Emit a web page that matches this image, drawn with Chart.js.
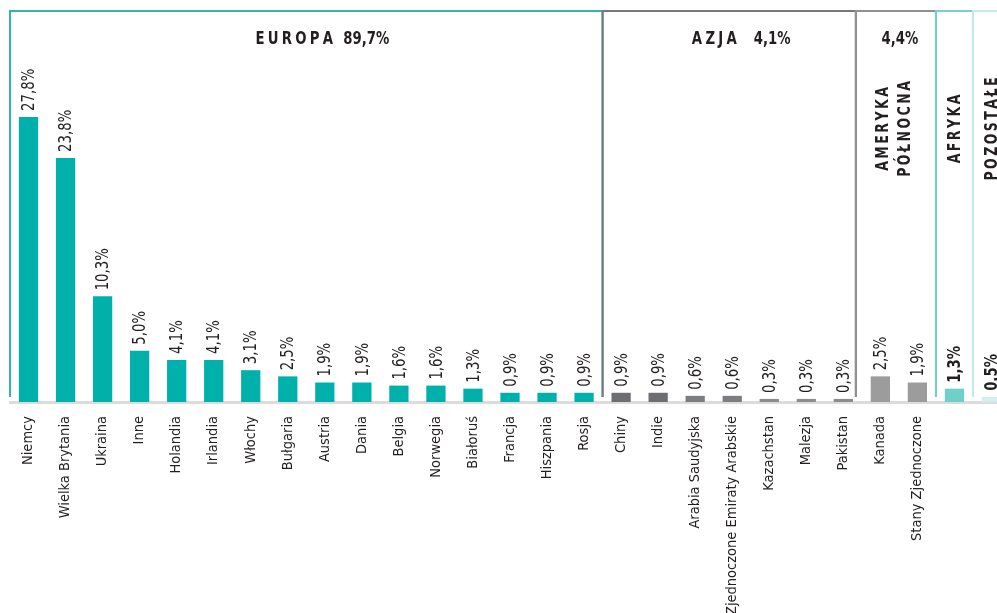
<!DOCTYPE html>
<html lang="pl">
<head>
<meta charset="utf-8">
<title>Struktura według krajów</title>
<script src="https://cdn.jsdelivr.net/npm/chart.js@4.4.1/dist/chart.umd.min.js"></script>
<style>
    html, body { margin: 0; padding: 0; background: #fff; overflow: hidden; }
</style>
</head>
<body>
<canvas id="wykres" width="997" height="613"></canvas>
<script>
// ==================== DANE ====================
const kraje = [
    "Niemcy", "Wielka Brytania", "Ukraina", "Inne", "Holandia", "Irlandia", "Włochy", "Bułgaria",
    "Austria", "Dania", "Belgia", "Norwegia", "Białoruś", "Francja", "Hiszpania", "Rosja",
    "Chiny", "Indie", "Arabia Saudyjska", "Zjednoczone Emiraty Arabskie", "Kazachstan", "Malezja", "Pakistan",
    "Kanada", "Stany Zjednoczone",
    "",
    ""
];
const udzial = [
    27.8, 23.8, 10.3, 5.0, 4.1, 4.1, 3.1, 2.5,
    1.9, 1.9, 1.6, 1.6, 1.3, 0.9, 0.9, 0.9,
    0.9, 0.9, 0.6, 0.6, 0.3, 0.3, 0.3,
    2.5, 1.9,
    1.3,
    0.5
];
const regiony = ["EUROPA", "AZJA", "AMERYKA PÓŁNOCNA", "AFRYKA", "POZOSTAŁE"];
const udzialRegionow = ["89,7%", "4,1%", "4,4%", "1,3%", "0,5%"];
const liczbaKrajow = [16, 7, 2, 1, 1];

// ==================== WYGLĄD ====================
const FONT = '"Liberation Sans Narrow", "DejaVu Sans Condensed", sans-serif';
const SCIESNIENIE = 0.82; // zwężenie napisów rysowanych ręcznie
const kolorTekstu = "#231f20";
const kolorySlupkow = [
    ...Array(16).fill("#00b0aa"),
    "#6d6e71", "#6d6e71", "#7c7d80", "#7c7d80", "#8b8c8e", "#8b8c8e", "#8b8c8e",
    "#9c9c9c", "#9c9c9c",
    "#6fd0ca",
    "#d2efed"
];
const kolorRamek = ["#35b4ae", "#77787b", "#8f9194", "#74d1cc", "#c3ebe8"];
const pogrubioneEtykiety = [25, 26];

function formatProcent(v) {
    return v.toFixed(1).replace(".", ",") + "%";
}

// szerokość tekstu (po zwężeniu) z odstępami między literami
function szerokosc(ctx, tekst, odstep = 0) {
    let w = 0;
    for (const ch of tekst) w += ctx.measureText(ch).width + odstep;
    return (w - odstep) * SCIESNIENIE;
}

// rysuje zwężony tekst od punktu (x, y) w bieżącym układzie, zwraca x końca
function rysujTekst(ctx, tekst, x, y, odstep = 0) {
    ctx.save();
    ctx.translate(x, y);
    ctx.scale(SCIESNIENIE, 1);
    ctx.textAlign = "left";
    let px = 0;
    for (const ch of tekst) {
        ctx.fillText(ch, px, 0);
        px += ctx.measureText(ch).width + odstep;
    }
    ctx.restore();
    return x + szerokosc(ctx, tekst, odstep);
}

// napis pionowy (od dołu do góry), wyśrodkowany w punkcie cx, cy
function rysujPionowo(ctx, tekst, cx, cy, odstep) {
    ctx.save();
    ctx.translate(cx, cy);
    ctx.rotate(-Math.PI / 2);
    ctx.textBaseline = "middle";
    rysujTekst(ctx, tekst, -szerokosc(ctx, tekst, odstep) / 2, 0, odstep);
    ctx.restore();
}

// ==================== POSZERZENIE OSI X ====================
// ostatnia kategoria ("pozostałe") ma wychodzić poza prawą krawędź płótna
const poszerzenieOsi = {
    id: "poszerzenieOsi",
    afterLayout(chart) {
        const x = chart.scales.x;
        const dodatek = 13;
        x.right += dodatek;
        x.width += dodatek;
        chart.chartArea.right += dodatek;
        chart.chartArea.width += dodatek;
        x.configure();
    }
};

// ==================== RAMKI REGIONÓW ====================
const ramkiRegionow = {
    id: "ramkiRegionow",
    beforeDatasetsDraw(chart) {
        const { ctx, chartArea, scales: { x } } = chart;
        const krok = x.getPixelForValue(1) - x.getPixelForValue(0);
        const gora = chartArea.top + 11;
        const dol = chartArea.bottom - 5;
        const korekta = [0, -6, 0, 0, 0]; // przesunięcie prawej krawędzi ramki
        let start = 0;
        const granice = [];
        liczbaKrajow.forEach((n, i) => {
            const lewa = x.getPixelForValue(start) - krok / 2 + (i > 0 ? korekta[i - 1] : 0);
            const prawa = x.getPixelForValue(start + n - 1) + krok / 2 + korekta[i];
            granice.push([lewa, prawa]);
            start += n;
        });

        ctx.save();
        ctx.lineWidth = 2;
        granice.forEach(([lewa, prawa], i) => {
            ctx.strokeStyle = kolorRamek[i];
            ctx.beginPath();
            ctx.moveTo(lewa, dol);
            ctx.lineTo(lewa, gora);
            ctx.lineTo(prawa, gora);
            ctx.lineTo(prawa, dol);
            ctx.stroke();
        });

        ctx.fillStyle = kolorTekstu;
        ctx.textBaseline = "alphabetic";

        // Europa i Azja - tytuł poziomy u góry
        ctx.font = "bold 18px " + FONT;
        [0, 1].forEach((i) => {
            const [lewa, prawa] = granice[i];
            const przerwa = i === 0 ? 10 : 17;
            const wNazwa = szerokosc(ctx, regiony[i], 4);
            const wProc = szerokosc(ctx, udzialRegionow[i]);
            const srodek = (lewa + prawa) / 2 + (i === 0 ? 16 : 12);
            let xs = srodek - (wNazwa + przerwa + wProc) / 2;
            xs = rysujTekst(ctx, regiony[i], xs, 44, 4) + przerwa;
            rysujTekst(ctx, udzialRegionow[i], xs, 44);
        });

        // Ameryka Północna - procent u góry, nazwa w dwóch pionowych wierszach
        const [lAm, pAm] = granice[2];
        const sAm = (lAm + pAm) / 2;
        rysujTekst(ctx, udzialRegionow[2], sAm + 4 - szerokosc(ctx, udzialRegionow[2]) / 2, 44);
        ctx.font = "bold 17px " + FONT;
        const [l1, l2] = regiony[2].split(" ");
        rysujPionowo(ctx, l1, sAm - 12, 129, 3);
        rysujPionowo(ctx, l2, sAm + 10, 129, 3);

        // Afryka i pozostałe - same nazwy pionowo
        [3, 4].forEach((i) => {
            const [lewa] = granice[i];
            rysujPionowo(ctx, regiony[i], lewa + krok / 2 + 1, 129, 3);
        });
        ctx.restore();
    }
};

// ==================== ETYKIETY WARTOŚCI ====================
const etykietyWartosci = {
    id: "etykietyWartosci",
    afterDatasetsDraw(chart) {
        const { ctx } = chart;
        const meta = chart.getDatasetMeta(0);
        ctx.save();
        ctx.fillStyle = kolorTekstu;
        meta.data.forEach((bar, i) => {
            const pogrubiona = pogrubioneEtykiety.includes(i);
            ctx.font = (pogrubiona ? "bold " : "") + "18px " + FONT;
            ctx.save();
            ctx.translate(bar.x + 1, bar.y - 6);
            ctx.rotate(-Math.PI / 2);
            ctx.textBaseline = "middle";
            rysujTekst(ctx, formatProcent(udzial[i]), 0, 0);
            ctx.restore();
        });
        ctx.restore();
    }
};

// ==================== WYKRES ====================
new Chart(document.getElementById("wykres"), {
    type: "bar",
    data: {
        labels: kraje,
        datasets: [{
            label: "Udział",
            data: udzial,
            backgroundColor: kolorySlupkow,
            borderWidth: 0,
            barPercentage: 0.52,
            categoryPercentage: 1
        }]
    },
    options: {
        responsive: false,
        animation: false,
        devicePixelRatio: 1,
        layout: { padding: { left: 10, right: 0, top: 0, bottom: 0 } },
        plugins: {
            legend: { display: false },
            tooltip: { enabled: false },
            title: { display: false }
        },
        scales: {
            x: {
                grid: { display: false, drawTicks: false },
                border: { display: true, color: "#dcdcdc", width: 3 },
                ticks: {
                    autoSkip: false,
                    minRotation: 90,
                    maxRotation: 90,
                    padding: 14,
                    color: kolorTekstu,
                    font: { family: FONT, size: 14.5 }
                },
                afterFit: (skala) => {
                    skala.height = 211;
                    skala.paddingLeft = 0;
                    skala.paddingRight = 0;
                }
            },
            y: {
                display: false,
                min: 0,
                max: 39.2
            }
        }
    },
    plugins: [poszerzenieOsi, ramkiRegionow, etykietyWartosci]
});
</script>
</body>
</html>
